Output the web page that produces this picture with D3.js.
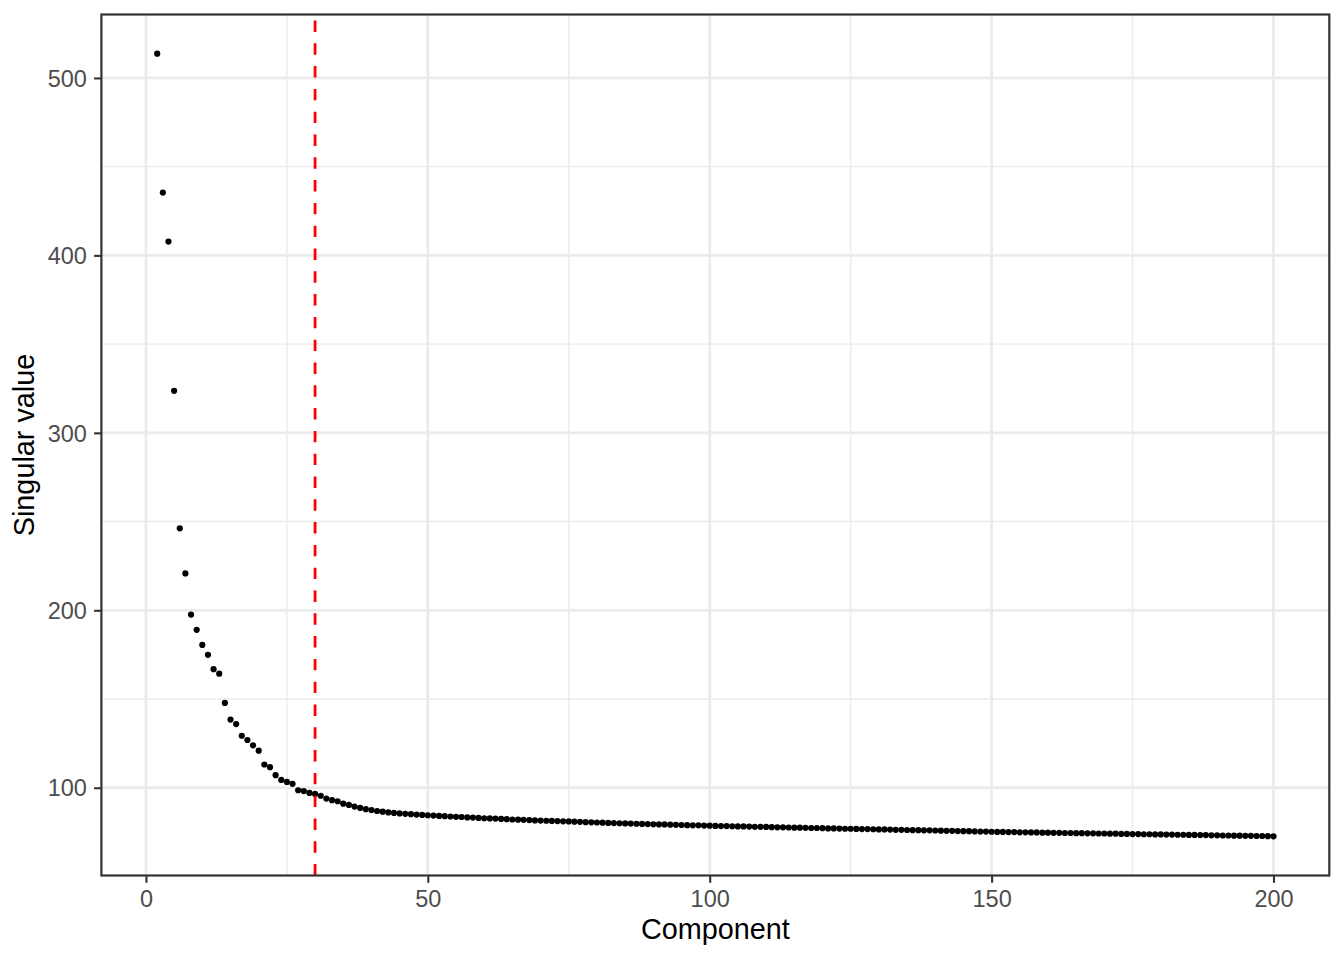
<!DOCTYPE html>
<html>
<head>
<meta charset="utf-8">
<script src="https://cdn.jsdelivr.net/npm/d3@7"></script>
<style>
  html, body { margin: 0; padding: 0; background: #ffffff; }
  svg { display: block; }
</style>
</head>
<body>
<svg id="chart" width="1344" height="960"></svg>
<script>
// ---- data ----
const firstComponent = 2;
const singularValues = [
  513.7, 435.4, 407.8, 323.7, 246.2, 220.8, 197.6, 189.0, 180.5, 174.9,
  166.8, 164.3, 147.8, 138.4, 135.9, 129.3, 126.9, 123.9, 120.9, 113.1,
  111.6, 107.1, 104.4, 103.3, 102.2, 98.6, 98.1, 97.1, 96.5, 95.5,
  93.9, 93.0, 92.4, 91.0, 90.3, 89.4, 88.6, 87.9, 87.4, 86.9,
  86.5, 86.1, 85.8, 85.5, 85.3, 85.1, 84.9, 84.7, 84.5, 84.3,
  84.1, 84.0, 83.8, 83.6, 83.5, 83.3, 83.2, 83.0, 82.8, 82.7,
  82.6, 82.4, 82.3, 82.1, 82.0, 81.9, 81.8, 81.6, 81.5, 81.4,
  81.3, 81.2, 81.1, 81.0, 80.9, 80.8, 80.6, 80.5, 80.4, 80.3,
  80.2, 80.1, 80.0, 79.9, 79.8, 79.7, 79.6, 79.5, 79.4, 79.3,
  79.3, 79.2, 79.1, 79.0, 78.9, 78.8, 78.8, 78.7, 78.6, 78.5,
  78.4, 78.4, 78.3, 78.2, 78.2, 78.1, 78.0, 78.0, 77.9, 77.8,
  77.7, 77.7, 77.6, 77.5, 77.5, 77.4, 77.3, 77.3, 77.2, 77.1,
  77.1, 77.0, 76.9, 76.9, 76.8, 76.7, 76.7, 76.6, 76.5, 76.5,
  76.4, 76.3, 76.3, 76.2, 76.1, 76.1, 76.0, 76.0, 75.9, 75.8,
  75.7, 75.7, 75.6, 75.5, 75.5, 75.4, 75.3, 75.3, 75.2, 75.1,
  75.1, 75.0, 75.0, 74.9, 74.9, 74.8, 74.8, 74.7, 74.7, 74.6,
  74.6, 74.5, 74.5, 74.4, 74.4, 74.3, 74.3, 74.2, 74.2, 74.1,
  74.1, 74.0, 74.0, 73.9, 73.9, 73.8, 73.8, 73.7, 73.7, 73.6,
  73.6, 73.5, 73.5, 73.4, 73.4, 73.3, 73.3, 73.2, 73.2, 73.1,
  73.1, 73.0, 73.0, 72.9, 72.9, 72.8, 72.8, 72.7, 72.6
];
const cutoffComponent = 30;
const xTicks = [0, 50, 100, 150, 200];
const xMinorTicks = [25, 75, 125, 175];
const yTicks = [100, 200, 300, 400, 500];
const yMinorTicks = [150, 250, 350, 450];
const xLabel = "Component";
const yLabel = "Singular value";

const points = singularValues.map((v, i) => ({ comp: firstComponent + i, value: v }));

// ---- layout ----
const panel = { left: 101.4, right: 1329.3, top: 14.5, bottom: 875.5 };
const svg = d3.select("#chart");
const FONT = "'Liberation Sans', Arial, Helvetica, sans-serif";

function expand(ext) {
  const r = ext[1] - ext[0];
  return [ext[0] - 0.05 * r, ext[1] + 0.05 * r];
}
const x = d3.scaleLinear()
  .domain(expand(d3.extent(points, d => d.comp)))
  .range([panel.left, panel.right]);
const y = d3.scaleLinear()
  .domain(expand(d3.extent(points, d => d.value)))
  .range([panel.bottom, panel.top]);

// panel background
svg.append("rect")
  .attr("x", panel.left).attr("y", panel.top)
  .attr("width", panel.right - panel.left).attr("height", panel.bottom - panel.top)
  .attr("fill", "#ffffff");

const clip = svg.append("clipPath").attr("id", "pclip").append("rect")
  .attr("x", panel.left).attr("y", panel.top)
  .attr("width", panel.right - panel.left).attr("height", panel.bottom - panel.top);

const grid = svg.append("g").attr("clip-path", "url(#pclip)");
// minor grid
grid.selectAll(".xminor").data(xMinorTicks).enter().append("line")
  .attr("x1", d => x(d)).attr("x2", d => x(d))
  .attr("y1", panel.top).attr("y2", panel.bottom)
  .attr("stroke", "#EBEBEB").attr("stroke-width", 1.4);
grid.selectAll(".yminor").data(yMinorTicks).enter().append("line")
  .attr("y1", d => y(d)).attr("y2", d => y(d))
  .attr("x1", panel.left).attr("x2", panel.right)
  .attr("stroke", "#EBEBEB").attr("stroke-width", 1.4);
// major grid
grid.selectAll(".xmajor").data(xTicks).enter().append("line")
  .attr("x1", d => x(d)).attr("x2", d => x(d))
  .attr("y1", panel.top).attr("y2", panel.bottom)
  .attr("stroke", "#EBEBEB").attr("stroke-width", 2.8);
grid.selectAll(".ymajor").data(yTicks).enter().append("line")
  .attr("y1", d => y(d)).attr("y2", d => y(d))
  .attr("x1", panel.left).attr("x2", panel.right)
  .attr("stroke", "#EBEBEB").attr("stroke-width", 2.8);

// points
svg.append("g").attr("clip-path", "url(#pclip)")
  .selectAll("circle").data(points).enter().append("circle")
  .attr("cx", d => x(d.comp))
  .attr("cy", d => y(d.value))
  .attr("r", 3.1)
  .attr("fill", "#000000");

// cutoff dashed line (drawn bottom to top like ggplot)
svg.append("line")
  .attr("x1", x(cutoffComponent)).attr("x2", x(cutoffComponent))
  .attr("y1", panel.bottom).attr("y2", panel.top)
  .attr("stroke", "#FF0000").attr("stroke-width", 2.8)
  .attr("stroke-dasharray", "11.4,11.4");

// panel border
svg.append("rect")
  .attr("x", panel.left).attr("y", panel.top)
  .attr("width", panel.right - panel.left).attr("height", panel.bottom - panel.top)
  .attr("fill", "none").attr("stroke", "#333333").attr("stroke-width", 2.2);

// axes
const xAxis = d3.axisBottom(x).tickValues(xTicks).tickSize(7.3).tickPadding(6).tickSizeOuter(0);
const yAxis = d3.axisLeft(y).tickValues(yTicks).tickSize(7.3).tickPadding(6).tickSizeOuter(0);

const gx = svg.append("g").attr("transform", `translate(0,${panel.bottom})`).call(xAxis);
const gy = svg.append("g").attr("transform", `translate(${panel.left},0)`).call(yAxis);
[gx, gy].forEach(g => {
  g.select(".domain").remove();
  g.selectAll(".tick line").attr("stroke", "#333333").attr("stroke-width", 2.1);
  g.selectAll(".tick text")
    .attr("fill", "#4D4D4D")
    .style("font-family", FONT)
    .style("font-size", "23.5px");
});
gx.selectAll(".tick text").attr("dy", null).attr("y", 31.2);
gy.selectAll(".tick text").attr("dy", "0.35em").attr("x", -14.5);

// axis titles
svg.append("text")
  .attr("x", (panel.left + panel.right) / 2)
  .attr("y", 939)
  .attr("text-anchor", "middle")
  .style("font-family", FONT)
  .style("font-size", "28.8px")
  .attr("fill", "#000000")
  .text(xLabel);

svg.append("text")
  .attr("transform", `translate(34,${(panel.top + panel.bottom) / 2}) rotate(-90)`)
  .attr("text-anchor", "middle")
  .style("font-family", FONT)
  .style("font-size", "28.8px")
  .attr("fill", "#000000")
  .text(yLabel);
</script>
</body>
</html>
